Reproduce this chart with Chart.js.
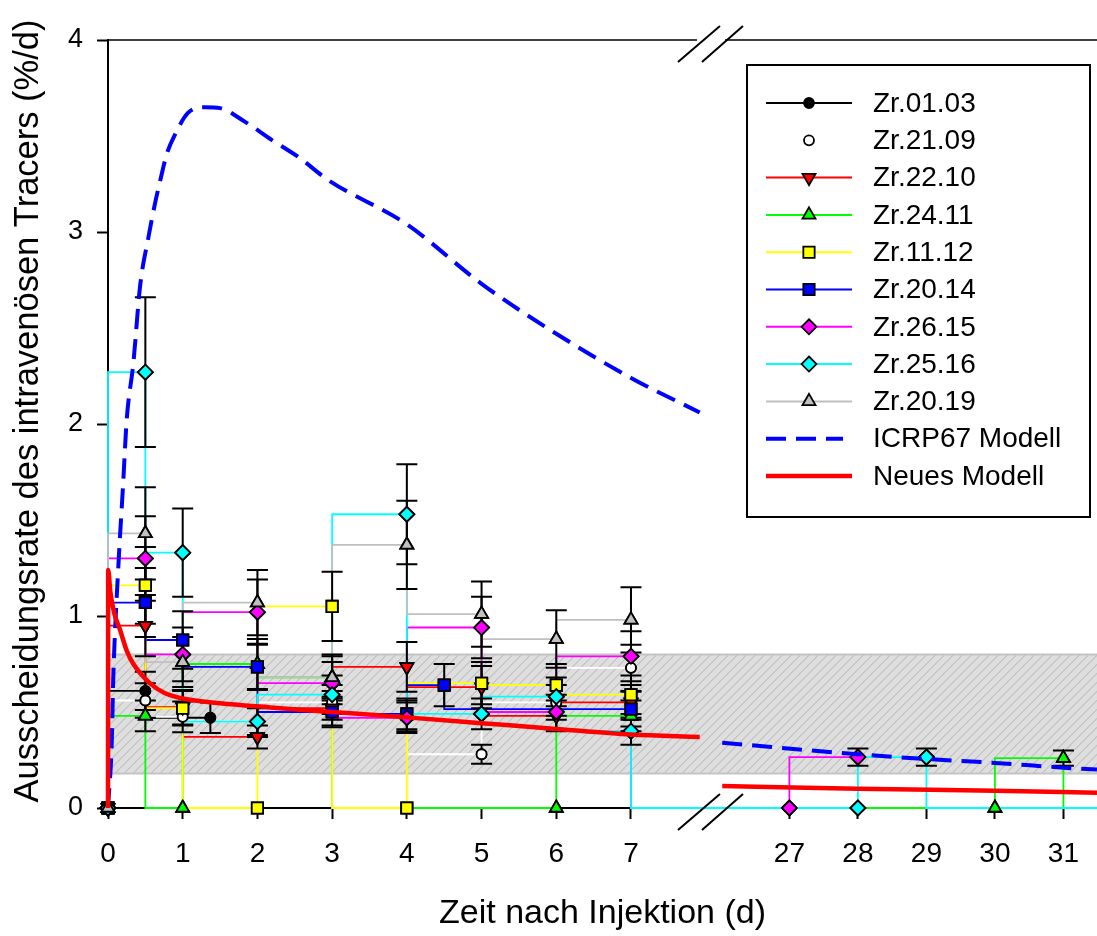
<!DOCTYPE html>
<html>
<head>
<meta charset="utf-8">
<script src="https://cdn.jsdelivr.net/npm/chart.js@4.4.1/dist/chart.umd.min.js"></script>
<style>
  html, body { margin: 0; padding: 0; background: #fff; }
</style>
</head>
<body>
<canvas id="chart" width="1097" height="936"></canvas>
<script>
// axis ticks (days)
const xTickDays = [0, 1, 2, 3, 4, 5, 6, 7, 27, 28, 29, 30, 31];
const yTickValues = [0, 1, 2, 3, 4];
const xMaxDay = 31.49;

const xTitle = 'Zeit nach Injektion (d)';
const yTitle = 'Ausscheidungsrate des intravenösen Tracers (%/d)';

// reference band (%/d)
const bandLow = 0.18;
const bandHigh = 0.80;

// measured series: times (d), rate (%/d), error (+/-)
const tZr0103 = [0, 0.5, 1.37];
const vZr0103 = [0, 0.61, 0.47];
const eZr0103 = [0, 0.10, 0.08];

const tZr2109 = [0, 0.5, 1, 2, 3, 4, 5, 6, 7];
const vZr2109 = [0, 0.56, 0.475, 0.45, 0.55, 0.48, 0.28, 0.55, 0.73];
const eZr2109 = [0, 0.09, 0.08, 0.07, 0.09, 0.08, 0.05, 0.09, 0.12];

const tZr2210 = [0, 0.5, 1, 2, 3, 4, 5, 6, 7];
const vZr2210 = [0, 0.95, 0.525, 0.37, 0.52, 0.735, 0.63, 0.48, 0.55];
const eZr2210 = [0, 0.16, 0.09, 0.06, 0.09, 0.13, 0.11, 0.08, 0.09];

const tZr2411 = [0, 0.5, 1, 2, 3, 6, 7, 30, 31];
const vZr2411 = [0, 0.48, 0, 0.75, 0.68, 0, 0.48, 0, 0.26];
const eZr2411 = [0, 0.08, 0, 0.13, 0.12, 0, 0.08, 0, 0.04];

const tZr1112 = [0, 0.5, 1, 2, 3, 4, 5, 6, 7];
const vZr1112 = [0, 1.16, 0.52, 0, 1.05, 0, 0.65, 0.64, 0.59];
const eZr1112 = [0, 0.20, 0.09, 0, 0.18, 0, 0.11, 0.11, 0.10];

const tZr2014 = [0, 0.5, 1, 2, 3, 4, 4.5, 7];
const vZr2014 = [0, 1.07, 0.875, 0.735, 0.50, 0.49, 0.64, 0.515];
const eZr2014 = [0, 0.18, 0.15, 0.12, 0.08, 0.08, 0.11, 0.09];

const tZr2615 = [0, 0.5, 1, 2, 3, 4, 5, 6, 7, 27, 28];
const vZr2615 = [0, 1.30, 0.80, 1.02, 0.65, 0.47, 0.94, 0.50, 0.79, 0, 0.265];
const eZr2615 = [0, 0.22, 0.14, 0.17, 0.11, 0.08, 0.16, 0.09, 0.13, 0, 0.045];

const tZr2516 = [0, 0.5, 1, 2, 3, 4, 5, 6, 7, 28, 29];
const vZr2516 = [0, 2.27, 1.33, 0.45, 0.59, 1.53, 0.49, 0.58, 0.40, 0, 0.265];
const eZr2516 = [0, 0.39, 0.23, 0.08, 0.10, 0.26, 0.08, 0.10, 0.07, 0, 0.045];

const tZr2019 = [0, 0.5, 1, 2, 3, 4, 5, 6, 7];
const vZr2019 = [0, 1.43, 0.76, 1.07, 0.68, 1.37, 1.01, 0.88, 0.98];
const eZr2019 = [0, 0.24, 0.13, 0.17, 0.11, 0.23, 0.17, 0.15, 0.17];

// model curves
const tICRP = [0, 0.05, 0.07, 0.14, 0.2, 0.25, 0.34, 0.43, 0.54, 0.63, 0.7, 0.79, 0.9, 1.07, 1.3, 1.5, 1.83, 2.19, 2.55, 2.95, 4, 5, 6, 7, 7.92, 26.02, 28, 29, 30, 31, 31.49];
const vICRP = [0, 0.34, 0.67, 1.27, 1.67, 2.02, 2.32, 2.72, 2.97, 3.15, 3.27, 3.41, 3.51, 3.62, 3.65, 3.645, 3.575, 3.48, 3.39, 3.27, 3.04, 2.73, 2.47, 2.24, 2.06, 0.34, 0.28, 0.255, 0.235, 0.21, 0.20];

const tNeu = [0, 0.003, 0.03, 0.08, 0.16, 0.25, 0.34, 0.56, 0.75, 1, 1.5, 2.17, 3, 4, 5, 6, 7, 7.92, 26.02, 28, 30, 31.49];
const vNeu = [0, 1.24, 1.13, 1.02, 0.93, 0.82, 0.75, 0.65, 0.6, 0.57, 0.545, 0.524, 0.5, 0.472, 0.442, 0.412, 0.383, 0.37, 0.115, 0.1, 0.09, 0.08];

// broken axis: 0..8 d kept as is, late days squeezed in after the break
const BREAK_DAY = 8;
const RIGHT_U0 = 9.12;
const RIGHT_K = 0.917;
function u(t) {
    return t <= BREAK_DAY ? t : RIGHT_U0 + (t - 27) * RIGHT_K;
}

const steps = [
    { name: 'Zr.01.03', t: tZr0103, v: vZr0103, e: eZr0103, color: '#000000', fill: '#000000', style: 'circle', r: 5 },
    { name: 'Zr.21.09', t: tZr2109, v: vZr2109, e: eZr2109, color: '#ffffff', fill: '#ffffff', style: 'circle', r: 5 },
    { name: 'Zr.22.10', t: tZr2210, v: vZr2210, e: eZr2210, color: '#ff0000', fill: '#ff0000', style: 'triangle', rot: 180, r: 7.5 },
    { name: 'Zr.24.11', t: tZr2411, v: vZr2411, e: eZr2411, color: '#00ff00', fill: '#00ff00', style: 'triangle', r: 7.5, toEnd: true },
    { name: 'Zr.11.12', t: tZr1112, v: vZr1112, e: eZr1112, color: '#ffff00', fill: '#ffff00', style: 'rect', r: 8 },
    { name: 'Zr.20.14', t: tZr2014, v: vZr2014, e: eZr2014, color: '#0000ff', fill: '#0000ff', style: 'rect', r: 8 },
    { name: 'Zr.26.15', t: tZr2615, v: vZr2615, e: eZr2615, color: '#ff00ff', fill: '#ff00ff', style: 'rectRot', r: 7.5 },
    { name: 'Zr.25.16', t: tZr2516, v: vZr2516, e: eZr2516, color: '#00ffff', fill: '#00ffff', style: 'rectRot', r: 7.5, toEnd: true },
    { name: 'Zr.20.19', t: tZr2019, v: vZr2019, e: eZr2019, color: '#c0c0c0', fill: '#c0c0c0', style: 'triangle', r: 7.5 },
];

const models = [
    { name: 'ICRP67 Modell', t: tICRP, v: vICRP, color: '#0000ff', width: 4, dash: [20, 10] },
    { name: 'Neues Modell', t: tNeu, v: vNeu, color: '#ff0000', width: 4.5, dash: [] },
];

const n = steps.length + models.length;
const datasets = [];

steps.forEach((s, i) => {
    const data = s.t.map((t, j) => ({ x: u(t), y: s.v[j] }));
    if (s.toEnd) data.push({ x: u(xMaxDay), y: 0, tail: true });
    datasets.push({
        label: s.name,
        data: data,
        stepped: 'after',
        borderColor: s.color,
        borderWidth: 1.8,
        backgroundColor: s.fill,
        pointStyle: s.style,
        pointRotation: s.rot || 0,
        pointRadius: c => (c.raw && c.raw.tail ? 0 : s.r),
        pointBackgroundColor: s.fill,
        pointBorderColor: '#000000',
        pointBorderWidth: 1.8,
        clip: false,
        order: n - i,
    });
});

models.forEach((m, k) => {
    const data = [];
    m.t.forEach((t, j) => {
        if (j > 0 && m.t[j - 1] < BREAK_DAY && t > BREAK_DAY) data.push({ x: u(BREAK_DAY), y: null });
        data.push({ x: u(t), y: m.v[j] });
    });
    datasets.push({
        label: m.name,
        data: data,
        borderColor: m.color,
        borderWidth: m.width,
        borderDash: m.dash,
        pointRadius: 0,
        cubicInterpolationMode: 'monotone',
        spanGaps: false,
        clip: false,
        order: models.length - 1 - k,
    });
});

const bandPlugin = {
    id: 'band',
    beforeDatasetsDraw(chart) {
        const { ctx, chartArea: a, scales: { y } } = chart;
        const y1 = y.getPixelForValue(bandHigh);
        const y2 = y.getPixelForValue(bandLow);
        const h = y2 - y1;
        ctx.save();
        ctx.fillStyle = '#dedede';
        ctx.fillRect(a.left, y1, a.right - a.left, h);
        ctx.beginPath();
        ctx.rect(a.left, y1, a.right - a.left, h);
        ctx.clip();
        ctx.strokeStyle = '#b2b2b2';
        ctx.lineWidth = 1;
        ctx.beginPath();
        for (let x = a.left - h; x < a.right + 10; x += 9) {
            ctx.moveTo(x, y2);
            ctx.lineTo(x + h, y1);
        }
        ctx.stroke();
        ctx.restore();
        ctx.save();
        ctx.strokeStyle = '#c4c4c4';
        ctx.lineWidth = 2;
        ctx.beginPath();
        ctx.moveTo(a.left, y1); ctx.lineTo(a.right, y1);
        ctx.moveTo(a.left, y2); ctx.lineTo(a.right, y2);
        ctx.stroke();
        ctx.restore();
    }
};

// error bars, then markers again on top of them, before the model curves
const firstModel = steps.length;
const errorBarPlugin = {
    id: 'errorBars',
    beforeDatasetDraw(chart, args) {
        if (args.index !== firstModel) return;
        const ctx = chart.ctx;
        const ys = chart.scales.y;
        ctx.save();
        ctx.strokeStyle = '#000000';
        ctx.lineWidth = 2;
        steps.forEach((s, i) => {
            const meta = chart.getDatasetMeta(i);
            s.e.forEach((err, j) => {
                if (!err) return;
                const px = meta.data[j].x;
                const top = ys.getPixelForValue(s.v[j] + err);
                const bot = ys.getPixelForValue(s.v[j] - err);
                ctx.beginPath();
                ctx.moveTo(px, top); ctx.lineTo(px, bot);
                ctx.moveTo(px - 10.5, top); ctx.lineTo(px + 10.5, top);
                ctx.moveTo(px - 10.5, bot); ctx.lineTo(px + 10.5, bot);
                ctx.stroke();
            });
        });
        ctx.restore();
        steps.forEach((s, i) => {
            chart.getDatasetMeta(i).data.forEach(p => p.draw(chart.ctx, chart.chartArea));
        });
    }
};

const framePlugin = {
    id: 'frame',
    afterDatasetsDraw(chart) {
        const { ctx, chartArea: a, scales: { x } } = chart;
        const c = (x.getPixelForValue(u(7.92)) + x.getPixelForValue(u(26.02))) / 2;
        ctx.save();
        ctx.strokeStyle = '#000000';
        ctx.lineWidth = 1.6;
        ctx.beginPath();
        ctx.moveTo(a.left, a.top); ctx.lineTo(c - 14, a.top);
        ctx.moveTo(c + 14, a.top); ctx.lineTo(a.right, a.top);
        ctx.stroke();
        ctx.lineWidth = 2;
        ctx.beginPath();
        [a.top, a.bottom].forEach(yy => {
            ctx.moveTo(c - 33, yy + 22); ctx.lineTo(c + 9, yy - 14);
            ctx.moveTo(c - 9, yy + 22); ctx.lineTo(c + 32, yy - 14);
        });
        ctx.stroke();
        // y axis title
        ctx.fillStyle = '#000000';
        ctx.font = "34.5px 'Liberation Sans', Arial, sans-serif";
        ctx.textAlign = 'center';
        ctx.textBaseline = 'middle';
        ctx.translate(28, 411);
        ctx.rotate(-Math.PI / 2);
        ctx.fillText(yTitle, 0, 0);
        ctx.restore();
    }
};

const legendPlugin = {
    id: 'legendBox',
    afterDraw(chart) {
        const ctx = chart.ctx;
        const bx = 747, by = 65, bw = 343, bh = 452;
        ctx.save();
        ctx.fillStyle = '#ffffff';
        ctx.fillRect(bx, by, bw, bh);
        ctx.strokeStyle = '#000000';
        ctx.lineWidth = 2;
        ctx.strokeRect(bx, by, bw, bh);
        ctx.font = "28px 'Liberation Sans', Arial, sans-serif";
        ctx.textBaseline = 'middle';
        ctx.textAlign = 'left';
        const x1 = 766, x2 = 852, xm = 809;
        let row = 0;
        const rowY = k => 103 + k * 37.3;
        steps.forEach(s => {
            const yy = rowY(row++);
            ctx.strokeStyle = s.color;
            ctx.lineWidth = 2;
            ctx.setLineDash([]);
            ctx.beginPath(); ctx.moveTo(x1, yy); ctx.lineTo(x2, yy); ctx.stroke();
            ctx.fillStyle = s.fill;
            ctx.strokeStyle = '#000000';
            ctx.lineWidth = 1.8;
            Chart.helpers.drawPoint(ctx, { pointStyle: s.style, rotation: s.rot || 0, radius: s.r, borderWidth: 1.8 }, xm, yy);
            ctx.fillStyle = '#000000';
            ctx.fillText(s.name, 873, yy + 1);
        });
        models.forEach(m => {
            const yy = rowY(row++);
            ctx.strokeStyle = m.color;
            ctx.lineWidth = m.width;
            ctx.setLineDash(m.dash);
            ctx.beginPath(); ctx.moveTo(x1, yy); ctx.lineTo(m.dash.length ? 843 : x2, yy); ctx.stroke();
            ctx.setLineDash([]);
            ctx.fillStyle = '#000000';
            ctx.fillText(m.name, 873, yy + 1);
        });
        ctx.restore();
    }
};

Chart.defaults.font.family = "'Liberation Sans', Arial, sans-serif";
Chart.defaults.color = '#000000';

new Chart(document.getElementById('chart'), {
    type: 'line',
    data: { datasets: datasets },
    options: {
        responsive: false,
        animation: false,
        events: [],
        devicePixelRatio: 1,
        layout: { autoPadding: false, padding: { top: 40, left: 0, right: 0, bottom: 0 } },
        plugins: { legend: { display: false }, tooltip: { enabled: false } },
        scales: {
            x: {
                type: 'linear',
                min: 0,
                max: u(xMaxDay),
                afterBuildTicks: s => { s.ticks = xTickDays.map(d => ({ value: u(d) })); },
                afterFit: s => { s.height = 128; s.paddingLeft = 0; s.paddingRight = 0; },
                ticks: {
                    autoSkip: false,
                    maxRotation: 0,
                    padding: 18,
                    font: { size: 28 },
                    callback: (val, i) => String(xTickDays[i]),
                },
                grid: { drawOnChartArea: false, drawTicks: true, tickLength: 11, tickColor: '#000000', tickWidth: 2 },
                border: { display: true, color: '#000000', width: 2 },
                title: { display: true, text: xTitle, font: { size: 34 }, padding: { top: 0, bottom: 2 } },
            },
            y: {
                type: 'linear',
                min: 0,
                max: 4,
                afterBuildTicks: s => { s.ticks = yTickValues.map(v => ({ value: v })); },
                afterFit: s => { s.width = 108; s.paddingTop = 0; s.paddingBottom = 0; },
                ticks: { padding: 14, font: { size: 27 } },
                grid: { drawOnChartArea: false, drawTicks: true, tickLength: 11, tickColor: '#000000', tickWidth: 2 },
                border: { display: true, color: '#000000', width: 2 },
                title: { display: false },
            },
        },
    },
    plugins: [bandPlugin, errorBarPlugin, framePlugin, legendPlugin],
});
</script>
</body>
</html>
